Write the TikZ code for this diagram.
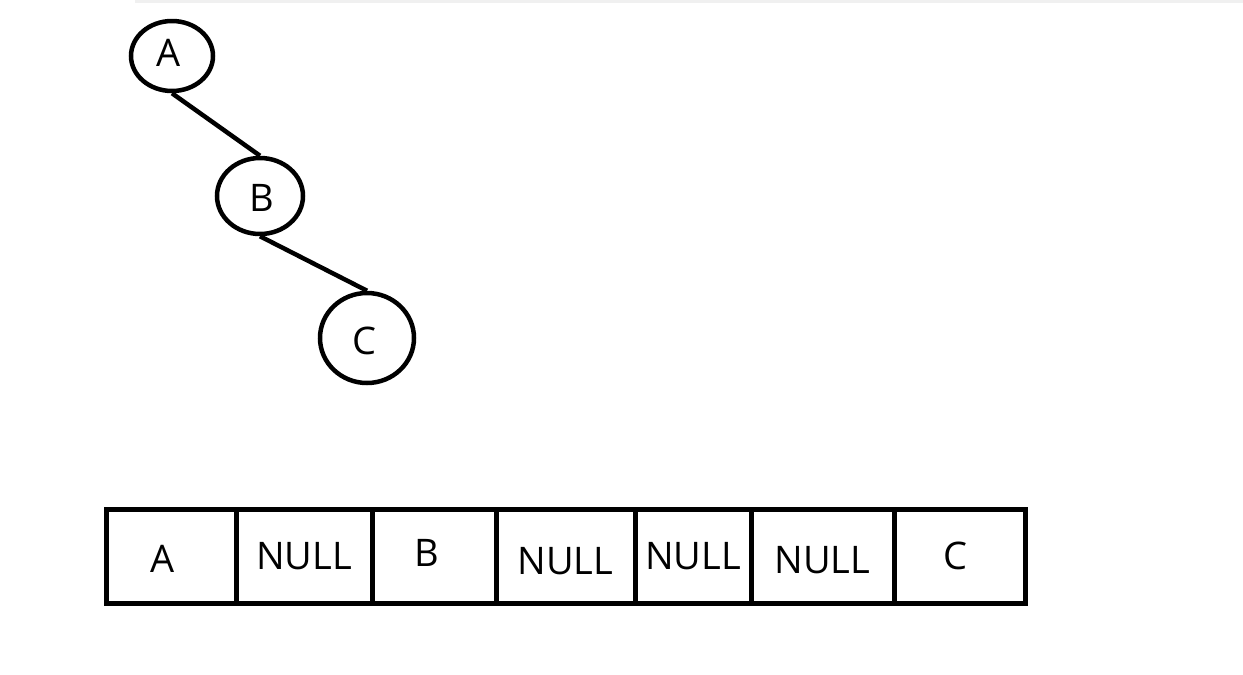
\documentclass[tikz,border=0pt]{standalone}
\usepackage{fontspec}
\setmainfont{Open Sans}
\usepackage{tikz}
\usetikzlibrary{positioning}
\usetikzlibrary{shapes.geometric}
\newcommand{\nudge}[2]{\raisebox{#1}[\height][\depth]{#2}}
\tikzset{	node distance=0pt, 
	treenode/.style={ 
		ellipse,
		draw,
		line width=4.5pt,
		inner sep=0pt},
	cell/.style={
		rectangle,
		draw,
		line width=5pt,
		minimum height=94pt,
		inner sep=0pt,
		outer sep=0pt},
	every edge/.style={  
		draw,
		line width=4.5pt}
}

\begin{document}
\begin{tikzpicture}[x=1pt, y=-1pt, font=\fontsize{38}{44}\selectfont]
	\useasboundingbox (0,0) rectangle (1243,675);
	\fill[gray!12] (135,0) rectangle (1243,3);
	
	\node[treenode, minimum width=82pt, minimum height=70pt] (A) at (172,56) {\nudge{3pt}{A}\kern6pt};
	\node[treenode, minimum width=86pt, minimum height=76pt] (B) at (260,196) {\kern4pt\nudge{-2pt}{B}};
	\node[treenode, minimum width=94pt, minimum height=90pt] (C) at (367,338) {\nudge{-3pt}{C}\kern6pt};
	
	\draw (A.south) edge (B.north);
	\draw (B.south) edge (C.north);
	
	\node[cell, minimum width=130pt, anchor=west] (a0) at (106,556) {\nudge{-3pt}{A}\kern16pt};
	\node[cell, minimum width=136pt, right = of a0] (a1) {NULL};
	\node[cell, minimum width=124pt, right = of a1] (a2) {\nudge{3pt}{B}\kern14pt};
	\node[cell, minimum width=139pt, right = of a2] (a3) {\nudge{-5pt}{NULL}};
	\node[cell, minimum width=116pt, right = of a3] (a4) {NULL};
	\node[cell, minimum width=143pt, right = of a4] (a5) {\nudge{-4pt}{NULL}};
	\node[cell, minimum width=131pt, right = of a5] (a6) {C\kern8pt};
	
\end{tikzpicture}
\end{document}
